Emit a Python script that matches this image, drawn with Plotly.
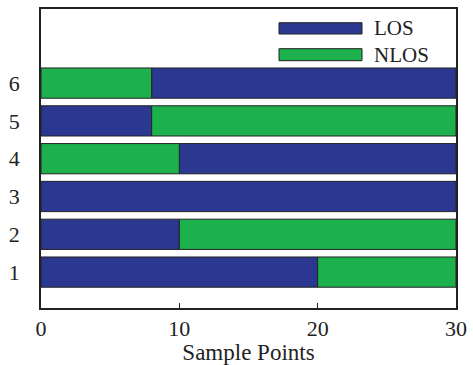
import plotly.graph_objects as go

rows = [1, 2, 3, 4, 5, 6]
los_start = [0, 0, 0, 10, 0, 8]
los_len = [20, 10, 30, 20, 8, 22]
nlos_start = [20, 10, None, 0, 8, 0]
nlos_len = [10, 20, None, 10, 22, 8]
x_ticks = [0, 10, 20, 30]

BLUE = "#2B3891"
GREEN = "#1DB14E"
FONT = "Liberation Serif"
TXT = "#222222"

fig = go.Figure()
fig.add_trace(go.Bar(y=rows, x=los_len, base=los_start, orientation="h", name="LOS",
                     width=0.8, marker=dict(color=BLUE, line=dict(color=TXT, width=1))))
fig.add_trace(go.Bar(y=rows, x=nlos_len, base=nlos_start, orientation="h", name="NLOS",
                     width=0.8, marker=dict(color=GREEN, line=dict(color=TXT, width=1))))

W, H = 473, 365
L, R, T, B = 41, 17, 9, 57
pw, ph = W - L - R, H - T - B

def px(x):
    return (x - L) / pw

def py(y):
    return (H - B - y) / ph

shapes = []
annotations = []
for (y0, y1, col, label) in [(22.7, 34, BLUE, "LOS"), (48.7, 60.7, GREEN, "NLOS")]:
    shapes.append(dict(type="rect", xref="paper", yref="paper",
                       x0=px(279), x1=px(362), y0=py(y1), y1=py(y0),
                       fillcolor=col, line=dict(color=TXT, width=1)))
    annotations.append(dict(xref="paper", yref="paper", x=px(372), y=py((y0 + y1) / 2),
                            text=label, showarrow=False, xanchor="left", yanchor="middle",
                            font=dict(family=FONT, size=21, color=TXT)))

fig.update_layout(
    width=W, height=H,
    margin=dict(l=L, r=R, t=T, b=B),
    paper_bgcolor="white", plot_bgcolor="white",
    barmode="overlay", showlegend=False,
    font=dict(family=FONT, size=22, color=TXT),
    shapes=shapes, annotations=annotations,
    xaxis=dict(range=[0, 30], tickvals=x_ticks, ticks="inside", ticklen=5, tickcolor=TXT,
               showgrid=False, zeroline=False, showline=True, linecolor=TXT, linewidth=1.5,
               mirror=True, automargin=False,
               title=dict(text="Sample Points", standoff=4, font=dict(family=FONT, size=23)),
               tickfont=dict(family=FONT, size=22)),
    yaxis=dict(range=[0.05, 7.96], tickvals=rows, ticks="", showgrid=False, zeroline=False,
               showline=True, linecolor=TXT, linewidth=1.5, mirror=True, automargin=False,
               ticklabelstandoff=15, tickfont=dict(family=FONT, size=22)),
)

fig.write_html("out.html", config={"displayModeBar": False},
               post_script="document.body.style.margin='0';")
